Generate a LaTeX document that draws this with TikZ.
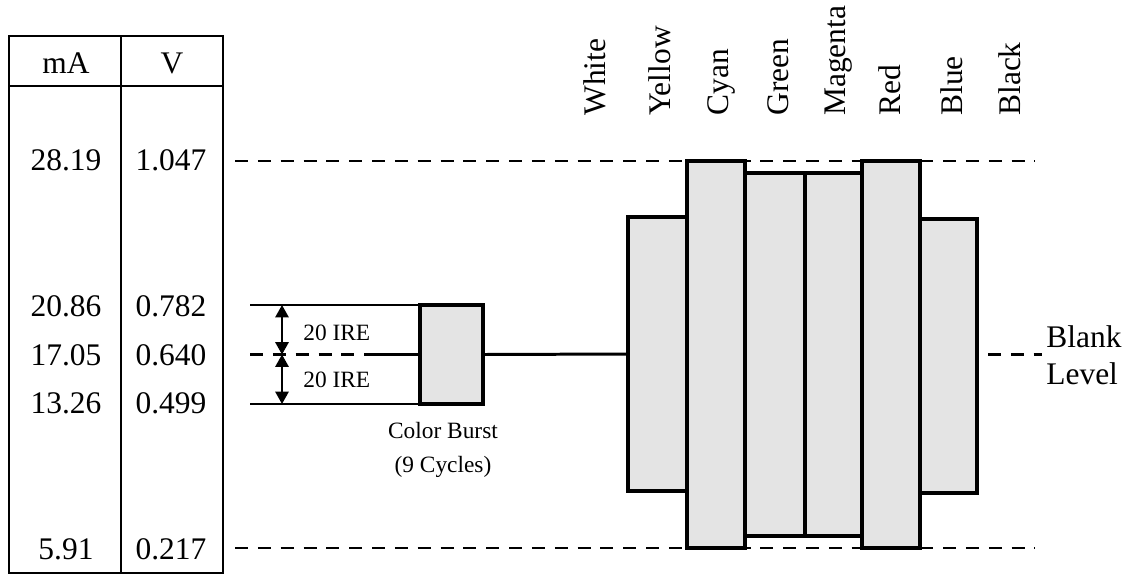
\documentclass[tikz,border=0pt]{standalone}
\usepackage{fontspec}
\setmainfont{Liberation Serif}
\usetikzlibrary{arrows.meta,positioning}
\definecolor{barfill}{HTML}{E4E4E4}

\begin{document}
\begin{tikzpicture}[
  x=0.02cm, y=-0.02cm,
  every node/.style={font=\fontsize{17.9}{21}\selectfont, inner sep=0pt},
  small/.style={font=\fontsize{13.3}{19}\selectfont},
  grid/.style={line width=1.2pt},
  level/.style={line width=1.6pt, dash pattern=on 7.4pt off 5.6pt},
  bar/.style={draw, fill=barfill, line width=2.3pt, inner sep=0pt, outer sep=0pt},
  colname/.style={rotate=90, anchor=base west},
  dim/.style={{Triangle[length=7pt,width=7.5pt]}-{Triangle[length=7pt,width=7.5pt]}, line width=1.2pt}
]
\useasboundingbox (0,0) rectangle (1131,575);

% Table
\draw[grid] (9,36) rectangle (223,573);
\draw[grid] (9,86) -- (223,86);
\draw[grid] (121,36) -- (121,573);
\node (mA) at (66,63) {mA};
\node (volt) at (172,63) {V};
\foreach \ma/\vv/\yy [count=\i] in {28.19/1.047/160, 20.86/0.782/306,
    17.05/0.640/355, 13.26/0.499/403, 5.91/0.217/549}
  {
  \node (ma\i) at (66,\yy) {\ma};
  \node (v\i) at (171,\yy) {\vv};
  }

% Levels
\draw[level] (235,161) -- (1035,161);
\draw[level] (235,548) -- (1035,548);

% Bars
\node[bar, minimum width=1.18cm, minimum height=5.48cm] (yellow) at (657.5,354) {};
\node[bar, minimum width=1.14cm, minimum height=5.48cm] (blue) at (948.5,356) {};
\node[bar, minimum width=1.16cm, minimum height=7.74cm] (cyan) at (716,354.5) {};
\node[bar, minimum width=1.16cm, minimum height=7.74cm] (red) at (891,354.5) {};
\node[bar, minimum width=1.20cm, minimum height=7.26cm] (green) at (775,354.5) {};
\node[bar, minimum width=1.14cm, minimum height=7.26cm] (magenta) at (833.5,354.5) {};

% Color names
\foreach \name/\xx in {White/605, Yellow/670, Cyan/728, Green/788,
    Magenta/845, Red/900, Blue/962, Black/1020}
  \node[colname] (\name lbl) at (\xx,116) {\name};

% Color burst
\node[bar, minimum width=1.26cm, minimum height=1.98cm] (burst) at (451.5,354.5) {};
\coordinate (blankL) at (250,354.5);
\coordinate (blankM) at (367,354.5);
\coordinate (burstTL) at (250,305);
\coordinate (burstBL) at (250,404);
\draw[level] (blankL) -- (blankM);
\draw[line width=1.7pt] (blankM) -- (burst.west);
\draw[line width=1.7pt] (burst.east) -- (yellow.west);
\draw[grid] (burstTL) -- (burstTL -| burst.west);
\draw[grid] (burstBL) -- (burstBL -| burst.west);

% IRE arrows
\coordinate (ireTop) at (282,305);
\coordinate (ireMid) at (282,354.5);
\coordinate (ireBot) at (282,404);
\draw[dim] (ireTop) -- (ireMid);
\draw[dim] (ireMid) -- (ireBot);
\node[small, anchor=west] (ireUp) at (303,333) {20 IRE};
\node[small, anchor=west] (ireDown) at (303,380) {20 IRE};
\node[small, align=center] (burstlbl) at (443,450) {Color Burst\\(9 Cycles)};

% Blank level
\coordinate (blankA) at (988,354.5);
\coordinate (blankB) at (1042,354.5);
\draw[level] (blankA) -- (blankB);
\node[anchor=base west] (blank) at (1046,347) {Blank};
\node[anchor=base west] (lvl) at (1046,384) {Level};

\end{tikzpicture}
\end{document}
